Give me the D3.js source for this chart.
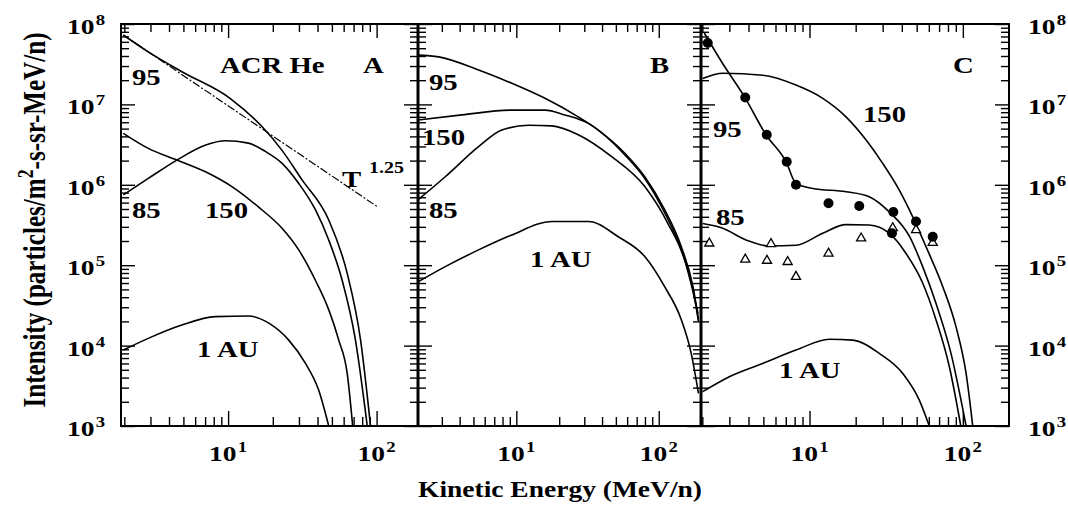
<!DOCTYPE html>
<html>
<head>
<meta charset="utf-8">
<script src="https://cdn.jsdelivr.net/npm/d3@7"></script>
<style>
  body { margin: 0; background: #fff; }
  text { font-family: "Liberation Serif", "Times New Roman", serif; font-weight: bold; fill: #000; }
</style>
</head>
<body>
<svg id="chart"></svg>
<script>
// ---- data (energy in MeV/n, intensity) ----
// Panel A
var a95E  = [1.97, 2.9, 4.88, 10.3, 16.9, 23, 31.5, 47.6, 63.4, 78, 91];
var a95I  = [7.3e7, 4.5e7, 2.55e7, 1.19e7, 5.3e6, 2.7e6, 1.15e6, 3.65e5, 7.9e4, 1.17e4, 1.0e3];
var a85E  = [1.97, 2.9, 4.52, 7.0, 9.56, 13.7, 17.8, 23.1, 29.9, 38.7, 47.6, 58.6, 72, 86.5];
var a85I  = [7.5e5, 1.2e6, 2.03e6, 3.1e6, 3.53e6, 3.3e6, 2.6e6, 1.85e6, 1.04e6, 4.9e5, 2.06e5, 6.5e4, 1.18e4, 1.0e3];
var a150E = [1.97, 2.9, 4.52, 7.38, 10.6, 16, 23, 29.9, 38.7, 47.6, 55.6, 63.4, 69];
var a150I = [4.37e6, 2.84e6, 2.03e6, 1.39e6, 9.5e5, 5.3e5, 2.9e5, 1.55e5, 6.5e4, 2.8e4, 1.17e4, 4.5e3, 1.0e3];
var a1auE = [1.97, 2.9, 4.88, 8.2, 13.7, 18.8, 25.6, 33.2, 40.7, 47.6];
var a1auI = [8.8e3, 1.23e4, 1.8e4, 2.29e4, 2.33e4, 1.9e4, 1.17e4, 6e3, 2.8e3, 1.0e3];
var aFitE = [1.97, 101];          // T^-1.25 guide line
var aFitI = [7.3e7, 5.35e5];

// Panel B
var b95E  = [2.04, 2.85, 5.43, 9.3, 15.9, 27.2, 37.6, 57.8, 79.8, 110, 144, 174, 190];
var b95I  = [4.1e7, 3.9e7, 2.68e7, 1.83e7, 1.19e7, 7.0e6, 4.8e6, 2.47e6, 1.26e6, 4.9e5, 1.7e5, 5.4e4, 2.1e4];
var b150E = [2.04, 4.15, 9.3, 15.9, 21.9, 32, 57.8, 79.8, 110, 144, 174, 190];
var b150I = [6.4e6, 7.4e6, 8.5e6, 8.5e6, 7.4e6, 5.8e6, 2.35e6, 1.2e6, 4.5e5, 1.55e5, 5e4, 2.0e4];
var b85E  = [2.04, 3.17, 5.43, 7.9, 12.2, 17.7, 27.2, 46.7, 79.8, 116, 152, 189];
var b85I  = [6.5e5, 1.26e6, 2.98e6, 4.8e6, 5.5e6, 5.4e6, 4.2e6, 2.24e6, 9.5e5, 3.3e5, 1.16e5, 2.5e4];
var b1auE = [2.04, 3.17, 5.43, 9.3, 17.7, 32, 52, 79.8, 110, 144, 169, 190];
var b1auI = [6.2e4, 9.6e4, 1.55e5, 2.38e5, 3.5e5, 3.5e5, 2.26e5, 1.28e5, 5.4e4, 2.1e4, 8e3, 2.55e3];

// Panel C
var c95E  = [2.06, 2.72, 3.76, 5.2, 7.03, 8.16, 10.5, 17.3, 24.5, 33.1, 44.8, 54.7, 66.8, 83.7, 105];
var c95I  = [7.7e7, 3.2e7, 1.25e7, 4.2e6, 1.94e6, 1.04e6, 9.0e5, 8.2e5, 7.1e5, 4.6e5, 2.3e5, 9.6e4, 3.36e4, 8e3, 1.0e3];
var c150E = [2.01, 2.72, 4.95, 8.16, 12.2, 17.3, 23.4, 30, 38.5, 47.1, 57.5, 74, 90.2, 105, 116];
var c150I = [2.1e7, 2.44e7, 2.3e7, 1.74e7, 1.19e7, 7.0e6, 3.6e6, 1.85e6, 8.6e5, 4.0e5, 1.7e5, 5.4e4, 1.72e4, 4.5e3, 1.0e3];
var c85E  = [2.01, 2.72, 3.85, 5.47, 8.16, 12.2, 17.3, 24.5, 33.1, 42.6, 54.7, 66.8, 81.6, 97];
var c85I  = [3.3e5, 2.88e5, 2.06e5, 1.73e5, 1.77e5, 2.5e5, 3.2e5, 3.16e5, 2.5e5, 1.4e5, 6e4, 2.1e4, 5.5e3, 1.0e3];
var c1auE = [2.01, 3.0, 4.95, 8.16, 13.5, 19.1, 28.5, 40.6, 52, 60.4];
var c1auI = [2.67e3, 4.1e3, 6.0e3, 8.8e3, 1.2e4, 1.17e4, 8e3, 4.5e3, 2.1e3, 1.0e3];
// measurements in panel C
var cDotE = [2.17, 3.81, 5.26, 7.1, 8.16, 13.3, 21.1, 35.2, 34.5, 49.5, 63.6];
var cDotI = [5.8e7, 1.22e7, 4.2e6, 1.94e6, 1.0e6, 5.9e5, 5.45e5, 4.6e5, 2.5e5, 3.5e5, 2.26e5];
var cTriE = [2.22, 3.81, 5.28, 5.61, 7.2, 8.16, 13.3, 21.7, 34.9, 49.5, 63.6];
var cTriI = [1.87e5, 1.18e5, 1.14e5, 1.84e5, 1.1e5, 7.2e4, 1.4e5, 2.16e5, 2.9e5, 2.74e5, 1.9e5];

// axis ticks
var yMajor = [1e3, 1e4, 1e5, 1e6, 1e7, 1e8];
var yExp = ['3', '4', '5', '6', '7', '8'];
var xMajor = [10, 100];
var xExp = ['1', '2'];

// ---- layout ----
var svgWidth = 1068, svgHeight = 506;
var plotTop = 24, plotBottom = 426;
var SX = 1.25;   // the figure is stretched sideways

var svg = d3.select('#chart')
    .attr('width', svgWidth)
    .attr('height', svgHeight);

svg.append('rect').attr('width', svgWidth).attr('height', svgHeight).attr('fill', '#fff');

var yScale = d3.scaleLog().domain([1e3, 1e8]).range([plotBottom, plotTop]);

function zip(e, v) { return e.map(function(d, i) { return [d, v[i]]; }); }

var panels = [
    { id: 'A', x0: 121, x1: 418, dom: [1.9, 190],
      curves: [zip(a95E, a95I), zip(a85E, a85I), zip(a150E, a150I), zip(a1auE, a1auI)],
      dashed: zip(aFitE, aFitI) },
    { id: 'B', x0: 418, x1: 701, dom: [2.04, 198],
      curves: [zip(b95E, b95I), zip(b150E, b150I), zip(b85E, b85I), zip(b1auE, b1auI)] },
    { id: 'C', x0: 701, x1: 1009, dom: [1.96, 200],
      curves: [zip(c95E, c95I), zip(c150E, c150I), zip(c85E, c85I), zip(c1auE, c1auI)],
      dots: zip(cDotE, cDotI), tris: zip(cTriE, cTriI) }
];

// minor tick values
var yMinor = [];
for (var p = 3; p < 8; p++) for (var k = 2; k < 10; k++) yMinor.push(k * Math.pow(10, p));
var xMinorAll = [];
for (var p2 = 0; p2 < 3; p2++) for (var k2 = 2; k2 < 10; k2++) xMinorAll.push(k2 * Math.pow(10, p2));

function drawTicks(g, axisFn, scale, values, size) {
    g.call(axisFn(scale).tickValues(values).tickSize(-size).tickFormat(''))
        .call(function(s) { s.select('.domain').remove(); });
    g.selectAll('line').attr('stroke', '#000').attr('stroke-width', 1.4);
}

// text with optional superscript, stretched horizontally
function powLabel(x, y, base, sup, size, supSize, supDy) {
    var g = svg.append('g').attr('transform', 'translate(' + x + ',' + y + ') scale(' + SX + ',1)');
    var t = g.append('text').attr('font-size', size);
    t.append('tspan').text(base);
    if (sup) t.append('tspan').attr('font-size', supSize).attr('dy', supDy).attr('dx', 1).text(sup);
    return g;
}

panels.forEach(function(pn) {
    var x = d3.scaleLog().domain(pn.dom).range([pn.x0, pn.x1]);
    var xMinor = xMinorAll.filter(function(v) { return v > pn.dom[0] && v < pn.dom[1]; });
    var g = svg.append('g');

    g.append('clipPath').attr('id', 'clip' + pn.id)
        .append('rect').attr('x', pn.x0).attr('y', plotTop).attr('width', pn.x1 - pn.x0).attr('height', plotBottom - plotTop);

    // ticks on all four sides, pointing inward
    drawTicks(g.append('g').attr('transform', 'translate(' + pn.x0 + ',0)'), d3.axisLeft, yScale, yMajor, 14);
    drawTicks(g.append('g').attr('transform', 'translate(' + pn.x0 + ',0)'), d3.axisLeft, yScale, yMinor, 8);
    drawTicks(g.append('g').attr('transform', 'translate(' + pn.x1 + ',0)'), d3.axisRight, yScale, yMajor, 14);
    drawTicks(g.append('g').attr('transform', 'translate(' + pn.x1 + ',0)'), d3.axisRight, yScale, yMinor, 8);
    drawTicks(g.append('g').attr('transform', 'translate(0,' + plotTop + ')'), d3.axisTop, x, xMajor, 14);
    drawTicks(g.append('g').attr('transform', 'translate(0,' + plotTop + ')'), d3.axisTop, x, xMinor, 8);
    drawTicks(g.append('g').attr('transform', 'translate(0,' + plotBottom + ')'), d3.axisBottom, x, xMajor, 15);
    drawTicks(g.append('g').attr('transform', 'translate(0,' + plotBottom + ')'), d3.axisBottom, x, xMinor, 9);

    var line = d3.line()
        .x(function(d) { return x(d[0]); })
        .y(function(d) { return yScale(d[1]); })
        .curve(d3.curveMonotoneX);

    var plot = g.append('g').attr('clip-path', 'url(#clip' + pn.id + ')');
    plot.selectAll('path.curve')
        .data(pn.curves)
        .enter()
        .append('path')
        .attr('class', 'curve')
        .attr('d', line)
        .attr('fill', 'none')
        .attr('stroke', '#000')
        .attr('stroke-width', 1.6);

    if (pn.dashed) {
        plot.append('path')
            .attr('d', d3.line().x(function(d) { return x(d[0]); }).y(function(d) { return yScale(d[1]); })(pn.dashed))
            .attr('fill', 'none')
            .attr('stroke', '#000')
            .attr('stroke-width', 1.2)
            .attr('stroke-dasharray', '8,2,2,2');
    }
    if (pn.tris) {
        plot.selectAll('path.tri')
            .data(pn.tris)
            .enter()
            .append('path')
            .attr('class', 'tri')
            .attr('d', d3.symbol(d3.symbolTriangle).size(36))
            .attr('transform', function(d) { return 'translate(' + x(d[0]) + ',' + yScale(d[1]) + ')'; })
            .attr('fill', '#fff')
            .attr('stroke', '#000')
            .attr('stroke-width', 1.3);
    }
    if (pn.dots) {
        plot.selectAll('circle.dot')
            .data(pn.dots)
            .enter()
            .append('circle')
            .attr('class', 'dot')
            .attr('cx', function(d) { return x(d[0]); })
            .attr('cy', function(d) { return yScale(d[1]); })
            .attr('r', 5)
            .attr('fill', '#000');
    }

    // frame
    g.append('rect')
        .attr('x', pn.x0).attr('y', plotTop)
        .attr('width', pn.x1 - pn.x0).attr('height', plotBottom - plotTop)
        .attr('fill', 'none').attr('stroke', '#000').attr('stroke-width', 2);

    // bottom tick labels
    xMajor.forEach(function(v, i) {
        powLabel(x(v) - 19, 461, '10', xExp[i], 22, 15, -9);
    });
});

// heavier dividers between panels
[418, 701].forEach(function(xv) {
    svg.append('line').attr('x1', xv).attr('x2', xv).attr('y1', plotTop).attr('y2', plotBottom)
        .attr('stroke', '#000').attr('stroke-width', 3);
});

// y tick labels, both sides
yMajor.forEach(function(v, i) {
    powLabel(67, yScale(v) + 10, '10', yExp[i], 22, 15, -9);
    powLabel(1028, yScale(v) + 10, '10', yExp[i], 22, 15, -9);
});

// panel annotations
var ann = [
    ['ACR He', 220, 73], ['A', 363, 73], ['95', 132, 85], ['85', 132, 218], ['150', 205, 218], ['1 AU', 197, 357],
    ['B', 650, 73], ['95', 429, 90], ['150', 422, 145], ['85', 429, 218], ['1 AU', 530, 267],
    ['C', 953, 73], ['150', 863, 122], ['95', 713, 137], ['85', 716, 225], ['1 AU', 779, 378]
];
ann.forEach(function(a) { powLabel(a[1], a[2], a[0], null, 23); });
powLabel(342, 187, 'T', null, 23);
powLabel(369, 173, '1.25', null, 16);

// axis titles
svg.append('text')
    .attr('x', 560).attr('y', 497)
    .attr('text-anchor', 'middle')
    .attr('font-size', 23)
    .attr('textLength', 284)
    .attr('lengthAdjust', 'spacingAndGlyphs')
    .text('Kinetic Energy (MeV/n)');

var yt = svg.append('g').attr('transform', 'translate(45,220) scale(1.3,1) rotate(-90)')
    .append('text')
    .attr('text-anchor', 'middle')
    .attr('font-size', 24)
    .attr('textLength', 375)
    .attr('lengthAdjust', 'spacingAndGlyphs');
yt.append('tspan').text('Intensity (particles/m');
yt.append('tspan').attr('font-size', 17).attr('dy', -9).text('2');
yt.append('tspan').attr('dy', 9).text('-s-sr-MeV/n)');
</script>
</body>
</html>
